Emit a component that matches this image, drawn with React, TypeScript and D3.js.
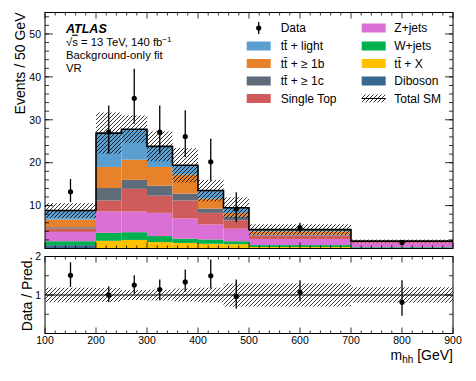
import React from 'react';
import * as d3 from 'd3';

const binEdges = [100, 200, 250, 300, 350, 400, 450, 500, 700, 900];
const diboson = [0.77, 0.1, 0.1, 0.1, 0.1, 0.1, 0.1, 0.05, 0.05];
const ttX = [0.0, 1.7, 1.9, 1.4, 1.2, 1.0, 0.9, 0.3, 0.05];
const wjets = [0.93, 1.85, 1.8, 1.4, 1.0, 1.0, 0.7, 0.45, 0.2];
const zjets = [2.16, 4.95, 4.8, 5.4, 4.7, 3.5, 2.9, 1.4, 1.05];
const singleTop = [0.8, 2.6, 5.3, 4.0, 4.2, 2.7, 2.0, 0.8, 0.2];
const tt1c = [0.3, 2.9, 2.1, 2.35, 1.6, 1.0, 0.9, 0.25, 0.05];
const tt1b = [1.8, 4.9, 4.7, 4.35, 4.4, 2.3, 0.8, 0.75, 0.05];
const ttLight = [2.1, 7.9, 7.1, 4.8, 2.2, 1.9, 1.2, 0.4, 0.08];
const totalUnc = [1.7, 4.8, 3.2, 3.5, 4.0, 2.5, 2.4, 1.25, 0.35];

const dataVal = [13.2, 27.1, 35.0, 27.1, 26.1, 20.2, 9.2, 4.8, 1.4];
const dataHigh = [16.2, 33.3, 41.9, 33.3, 32.2, 25.6, 13.1, 6.0, 2.0];
const dataLow = [10.8, 22.1, 29.1, 22.0, 21.3, 15.8, 6.1, 3.7, 0.8];

const ratioVal = [1.51, 1.0, 1.26, 1.14, 1.34, 1.5, 0.96, 1.07, 0.81];
const ratioHigh = [1.85, 1.23, 1.51, 1.4, 1.66, 1.92, 1.4, 1.38, 1.38];
const ratioLow = [1.21, 0.81, 1.04, 0.87, 1.09, 1.17, 0.64, 0.83, 0.46];
const ratioUnc = [0.19, 0.18, 0.13, 0.14, 0.17, 0.19, 0.3, 0.3, 0.2];

const xTicks = [100, 200, 300, 400, 500, 600, 700, 800, 900];
const yTicksMain = [10, 20, 30, 40, 50];
const yTicksRatio = [1, 2];

const components = [
  { key: 'dib', label: 'Diboson', color: '#3a6791', values: diboson },
  { key: 'ttx', label: 'tt\u0304 + X', color: '#ffc000', values: ttX },
  { key: 'w', label: 'W+jets', color: '#00b04f', values: wjets },
  { key: 'z', label: 'Z+jets', color: '#da6fd6', values: zjets },
  { key: 'st', label: 'Single Top', color: '#d05b5b', values: singleTop },
  { key: 'c', label: 'tt\u0304 + \u2265 1c', color: '#5f6b79', values: tt1c },
  { key: 'b', label: 'tt\u0304 + \u2265 1b', color: '#e8822a', values: tt1b },
  { key: 'l', label: 'tt\u0304 + light', color: '#5a9fd0', values: ttLight },
];

const FONT = '"Liberation Sans", Arial, Helvetica, sans-serif';

export default function App() {
  const W = 476, H = 381;
  const left = 45, right = 453;
  const mainTop = 12.5, mainBot = 248.5;
  const ratTop = 256.5, ratBot = 333.5;

  const x = d3.scaleLinear().domain([100, 900]).range([left, right]);
  const y = d3.scaleLinear().domain([0, 55]).range([mainBot, mainTop]);
  const yr = d3.scaleLinear().domain([0, 2]).range([ratBot, ratTop]);

  const nb = binEdges.length - 1;
  const rows = d3.range(nb).map((i) => {
    const r: any = { i };
    components.forEach((c) => (r[c.key] = c.values[i]));
    return r;
  });
  const stacked = d3.stack<any>().keys(components.map((c) => c.key))(rows);
  const totals = rows.map((r) => components.reduce((s, c) => s + r[c.key], 0));
  const centers = d3.range(nb).map((i) => (binEdges[i] + binEdges[i + 1]) / 2);

  const outlinePts: [number, number][] = totals.map((t, i) => [binEdges[i], t]);
  outlinePts.push([binEdges[nb], totals[nb - 1]]);
  const outline = d3
    .line<[number, number]>()
    .x((d) => x(d[0]))
    .y((d) => y(d[1]))
    .curve(d3.curveStepAfter)(outlinePts);

  const minorX = d3.range(100, 901, 20);
  const minorYMain = d3.range(0, 55.01, 2);
  const minorYRatio = [0.5, 1.5];

  const frameTicks = (top: number, bot: number, ys: d3.ScaleLinear<number, number>, majY: number[], minY: number[], xMaj: number, xMin: number, yMaj: number, yMin: number) => (
    <g stroke="#000" strokeWidth={0.8}>
      {minorX.map((v) => {
        const isMaj = v % 100 === 0;
        const len = isMaj ? xMaj : xMin;
        return (
          <g key={'x' + v}>
            <line x1={x(v)} x2={x(v)} y1={bot} y2={bot - len} />
            <line x1={x(v)} x2={x(v)} y1={top} y2={top + len} />
          </g>
        );
      })}
      {minY.map((v) => (
        <g key={'ym' + v}>
          <line x1={left} x2={left + yMin} y1={ys(v)} y2={ys(v)} />
          <line x1={right} x2={right - yMin} y1={ys(v)} y2={ys(v)} />
        </g>
      ))}
      {majY.map((v) => (
        <g key={'yM' + v}>
          <line x1={left} x2={left + yMaj} y1={ys(v)} y2={ys(v)} />
          <line x1={right} x2={right - yMaj} y1={ys(v)} y2={ys(v)} />
        </g>
      ))}
    </g>
  );

  const legLeft = [
    { label: 'Data', type: 'data' },
    ...[7, 6, 5, 4].map((k) => ({ label: components[k].label, type: 'box', color: components[k].color })),
  ];
  const legRight = [
    ...[3, 2, 1, 0].map((k) => ({ label: components[k].label, type: 'box', color: components[k].color })),
    { label: 'Total SM', type: 'hatch' },
  ];
  const rowY = [28, 46, 63.5, 81, 98.5];

  const legendItem = (it: any, i: number, sx: number, tx: number) => {
    const cy = rowY[i];
    return (
      <g key={it.label}>
        {it.type === 'data' && (
          <g>
            <line x1={sx + 12} x2={sx + 12} y1={cy - 6} y2={cy + 6} stroke="#000" strokeWidth={1.3} />
            <circle cx={sx + 12} cy={cy} r={2.6} fill="#000" />
          </g>
        )}
        {it.type === 'box' && <rect x={sx} y={cy - 4.5} width={24} height={9} fill={it.color} />}
        {it.type === 'hatch' && (
          <g>
            <rect x={sx} y={cy - 4} width={24} height={8} fill="url(#hatch)" />
            <line x1={sx} x2={sx + 24} y1={cy} y2={cy} stroke="#000" strokeWidth={1} />
          </g>
        )}
        <text x={tx} y={cy + 4.3} fontSize={12}>{it.label}</text>
      </g>
    );
  };

  return (
    <svg width={W} height={H} style={{ position: 'absolute', left: 0, top: 0, fontFamily: FONT }}>
      <defs>
        <pattern id="hatch" patternUnits="userSpaceOnUse" width={4} height={4}>
          <path d="M-1,1 l2,-2 M0,4 l4,-4 M3,5 l2,-2" stroke="#000" strokeWidth={0.8} />
        </pattern>
      </defs>
      <rect width={W} height={H} fill="#fff" />

      {/* stack */}
      {stacked.map((layer, li) => (
        <g key={layer.key} fill={components[li].color}>
          {layer.map((d, i) => (
            <rect
              key={i}
              x={x(binEdges[i])}
              width={x(binEdges[i + 1]) - x(binEdges[i])}
              y={y(d[1])}
              height={Math.max(0, y(d[0]) - y(d[1]))}
            />
          ))}
        </g>
      ))}

      {/* uncertainty band */}
      {totals.map((t, i) => (
        <rect
          key={'u' + i}
          x={x(binEdges[i])}
          width={x(binEdges[i + 1]) - x(binEdges[i])}
          y={y(t + totalUnc[i])}
          height={y(t - totalUnc[i]) - y(t + totalUnc[i])}
          fill="url(#hatch)"
        />
      ))}
      <path d={outline || ''} fill="none" stroke="#000" strokeWidth={1.6} />

      {/* data */}
      {centers.map((c, i) => (
        <g key={'d' + i}>
          <line x1={x(c)} x2={x(c)} y1={y(dataLow[i])} y2={y(dataHigh[i])} stroke="#000" strokeWidth={1.3} />
          <circle cx={x(c)} cy={y(dataVal[i])} r={2.6} fill="#000" />
        </g>
      ))}

      {/* ratio band */}
      {ratioUnc.map((u, i) => (
        <rect
          key={'ru' + i}
          x={x(binEdges[i])}
          width={x(binEdges[i + 1]) - x(binEdges[i])}
          y={yr(1 + u)}
          height={yr(1 - u) - yr(1 + u)}
          fill="url(#hatch)"
        />
      ))}
      <line x1={left} x2={right} y1={yr(1)} y2={yr(1)} stroke="#000" strokeWidth={1} />
      {centers.map((c, i) => (
        <g key={'r' + i}>
          <line x1={x(c)} x2={x(c)} y1={yr(ratioLow[i])} y2={yr(ratioHigh[i])} stroke="#000" strokeWidth={1.3} />
          <circle cx={x(c)} cy={yr(ratioVal[i])} r={2.6} fill="#000" />
        </g>
      ))}

      {/* frames */}
      <rect x={left} y={mainTop} width={right - left} height={mainBot - mainTop} fill="none" stroke="#000" strokeWidth={1} />
      <rect x={left} y={ratTop} width={right - left} height={ratBot - ratTop} fill="none" stroke="#000" strokeWidth={1} />
      {frameTicks(mainTop, mainBot, y, yTicksMain, minorYMain, 6, 3, 8, 4)}
      {frameTicks(ratTop, ratBot, yr, yTicksRatio, minorYRatio, 6, 3, 8, 4)}

      {/* tick labels */}
      <g fontSize={10.5} textAnchor="end">
        {yTicksMain.map((v) => (
          <text key={v} x={41} y={y(v) + 3.8}>{v}</text>
        ))}
        {yTicksRatio.map((v) => (
          <text key={v} x={41} y={yr(v) + 3.8}>{v}</text>
        ))}
      </g>
      <g fontSize={10.5} textAnchor="middle">
        {xTicks.map((v) => (
          <text key={v} x={x(v)} y={344}>{v}</text>
        ))}
      </g>

      {/* axis titles */}
      <text transform={`translate(25,${mainTop}) rotate(-90)`} textAnchor="end" fontSize={14}>Events / 50 GeV</text>
      <text transform={`translate(32,${ratTop}) rotate(-90)`} textAnchor="end" fontSize={14}>Data / Pred.</text>
      <text x={right} y={360} textAnchor="end" fontSize={14}>
        m<tspan fontSize={10} dy={3}>hh</tspan>
        <tspan dy={-3}> [GeV]</tspan>
      </text>

      {/* ATLAS label */}
      <text x={66} y={33.3} fontSize={12.5} fontWeight="bold" fontStyle="italic">ATLAS</text>
      <text x={66} y={45.7} fontSize={11.3}>
        {'\u221A'}
        <tspan textDecoration="overline" style={{ textDecoration: 'overline' }}>s</tspan>
        {' =  13 TeV, 140 fb'}
        <tspan fontSize={8} dy={-4}>{'\u22121'}</tspan>
      </text>
      <text x={66} y={58.5} fontSize={11.3}>Background-only fit</text>
      <text x={66} y={71.7} fontSize={11.3}>VR</text>

      {/* legend */}
      {legLeft.map((it, i) => legendItem(it, i, 246.7, 280.7))}
      {legRight.map((it, i) => legendItem(it, i, 361.7, 394.3))}
    </svg>
  );
}
